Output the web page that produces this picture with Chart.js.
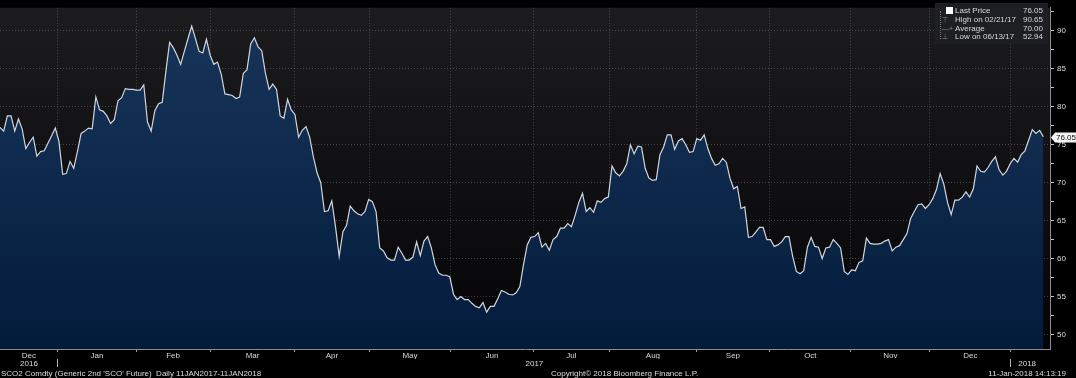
<!DOCTYPE html>
<html>
<head>
<meta charset="utf-8">
<script src="https://cdn.jsdelivr.net/npm/chart.js@4.4.1/dist/chart.umd.min.js"></script>
<style>
  html, body { margin: 0; padding: 0; background: #000; }
  #wrap { position: relative; width: 1076px; height: 378px; overflow: hidden;
          font-family: "Liberation Sans", Arial, sans-serif; color: #d8d8d8; }
  #c { position: absolute; left: 0; top: 0; }
  .legend { position: absolute; left: 935px; top: 3px; width: 113px; height: 41px;
            background: rgba(31, 32, 36, 0.94); font-size: 8px; }
  .legend .row { position: absolute; left: 0; width: 113px; height: 9px; line-height: 9px; white-space: pre; }
  .legend .lab { position: absolute; left: 20px; }
  .legend .val { position: absolute; right: 5px; }
  .legend .ico { position: absolute; left: 7px; color: #8a8a8a; font-size: 7px; }
  .legend .sq { position: absolute; left: 11px; top: 1px; width: 7px; height: 7px; background: #fff; }
  .legend .tree { position: absolute; left: 5px; top: 8px; height: 28px; border-left: 1px dotted #777; }
  .foot { position: absolute; top: 369px; font-size: 8px; line-height: 9px; white-space: pre; color: #dcdcdc; }
</style>
</head>
<body>
<div id="wrap">
  <canvas id="c" width="1076" height="370"></canvas>
  <div class="legend" id="legend"><div class="tree"></div></div>
  <div class="foot" style="left:1px">SCO2 Comdty (Generic 2nd 'SCO' Future)  Daily 11JAN2017-11JAN2018</div>
  <div class="foot" style="left:551px">Copyright© 2018 Bloomberg Finance L.P.</div>
  <div class="foot" style="right:10px">11-Jan-2018 14:13:19</div>
</div>
<script>
// Cours quotidien (jours ouvrés), de mi-déc. 2016 au 11 janv. 2018
const prices = [
  77.3, 76.8, 78.8, 78.8, 76.8, 78.4, 77.1, 74.5, 75.3, 76.0,
  73.5, 74.1, 74.2, 75.2, 76.2, 77.2, 75.4, 71.1, 71.2, 72.8,
  71.9, 74.1, 76.5, 76.8, 77.2, 77.1, 81.3, 79.6, 79.4, 78.8,
  77.8, 78.3, 80.8, 81.2, 82.4, 82.3, 82.3, 82.2, 82.2, 82.9,
  78.0, 76.8, 79.5, 80.4, 80.6, 84.7, 88.5, 87.8, 86.8, 85.6,
  87.3, 89.0, 90.65, 89.0, 87.3, 87.1, 88.9, 86.8, 85.6, 85.9,
  84.3, 81.7, 81.6, 81.5, 81.1, 81.3, 84.4, 84.9, 88.3, 89.1,
  87.9, 87.4, 84.4, 82.3, 83.0, 82.3, 78.8, 78.5, 81.0, 79.6,
  79.0, 76.0, 76.9, 77.4, 76.0, 73.4, 71.3, 70.0, 66.2, 66.3,
  67.6, 64.2, 60.3, 63.5, 64.4, 66.9, 66.3, 65.9, 65.7, 66.2,
  67.8, 67.5, 66.2, 61.4, 61.0, 60.1, 59.8, 59.8, 61.5, 60.7,
  59.8, 59.8, 60.2, 62.2, 60.4, 62.3, 62.9, 61.4, 59.2, 58.1,
  57.8, 57.8, 57.6, 55.3, 54.6, 55.0, 54.6, 54.6, 54.1, 53.7,
  53.5, 54.2, 52.94, 53.7, 53.7, 54.7, 55.8, 55.6, 55.3, 55.2,
  55.5, 56.3, 59.2, 61.8, 62.8, 62.9, 63.4, 61.5, 62.0, 61.1,
  62.5, 62.9, 64.0, 64.0, 64.6, 64.2, 65.7, 67.4, 68.6, 66.2,
  66.7, 66.1, 67.6, 67.4, 67.9, 68.1, 72.2, 71.3, 70.9, 71.5,
  72.5, 75.0, 73.8, 74.8, 74.7, 71.9, 70.6, 70.3, 70.4, 73.7,
  74.7, 76.3, 76.3, 74.4, 75.5, 75.8, 75.0, 74.0, 74.1, 75.8,
  75.6, 76.3, 74.5, 73.2, 72.3, 72.5, 73.2, 72.7, 70.6, 69.2,
  69.5, 66.6, 66.8, 62.8, 62.9, 63.5, 64.1, 64.1, 62.5, 62.5,
  61.6, 61.8, 62.2, 62.9, 62.9, 60.3, 58.3, 58.0, 58.4, 61.5,
  62.8, 61.6, 61.5, 60.0, 61.4, 61.5, 62.5, 62.0, 61.4, 58.3,
  57.9, 58.5, 58.4, 59.5, 59.7, 62.7, 62.0, 61.9, 61.9, 62.0,
  62.3, 62.5, 61.0, 61.5, 61.7, 62.5, 63.3, 65.3, 66.2, 67.1,
  67.2, 66.6, 67.1, 67.9, 69.1, 71.2, 69.8, 67.4, 65.8, 67.7,
  67.7, 68.1, 68.8, 68.1, 69.2, 72.2, 71.5, 71.4, 72.0, 72.8,
  73.4, 71.7, 71.0, 71.5, 72.5, 73.2, 72.7, 73.7, 74.2, 75.6,
  77.0, 76.5, 76.9, 76.05
];

// Début de chaque mois (en rang de séance), Jan 2017 -> Jan 2018
const monthEdges = [15.7, 36.9, 57.0, 80.0, 100.1, 122.3, 144.6, 165.4, 188.8, 208.8, 230.8, 252.2, 274.2];
const monthNames = ["Dec", "Jan", "Feb", "Mar", "Apr", "May", "Jun", "Jul", "Aug", "Sep", "Oct", "Nov", "Dec"];
const yearNames = ["2016", "2017", "2018"];

const legendLabels = ["Last Price", "High on 02/21/17", "Average", "Low on 06/13/17"];
const legendValues = ["76.05", "90.65", "70.00", "52.94"];
const legendIcons = ["", "\u22A4", "\u2014+", "\u22A5"];

const FONT = "'Liberation Sans', Arial, sans-serif";
const TXT = "#d8d8d8";
const GRID = "rgba(150, 150, 160, 0.38)";

// ticks de l'axe des mois : milieux (libellés) + bornes (grille)
const monthMid = monthNames.map((n, i) => ((i ? monthEdges[i - 1] : 0) + monthEdges[i]) / 2);
const monthLabelAt = new Map(monthMid.map((v, i) => [v, monthNames[i]]));
const monthTicks = [...monthMid, ...monthEdges].sort((a, b) => a - b);

const yearEdges = [monthEdges[0], monthEdges[monthEdges.length - 1]];
const yearBounds = [0, ...yearEdges, prices.length - 1];
const yearMid = yearNames.map((n, i) => (yearBounds[i] + yearBounds[i + 1]) / 2);
const yearLabelAt = new Map(yearMid.map((v, i) => [v, yearNames[i]]));
const yearTicks = [...yearMid, ...yearEdges].sort((a, b) => a - b);

const yTicks = [];
for (let v = 50; v <= 92.5; v += 2.5) yTicks.push(v);

// légende en HTML
const lg = document.getElementById("legend");
legendLabels.forEach((l, i) => {
  const r = document.createElement("div");
  r.className = "row";
  r.style.top = (3.3 + i * 8.7) + "px";
  const ico = i === 0 ? '<span class="sq"></span>' : `<span class="ico">${legendIcons[i]}</span>`;
  r.innerHTML = `${ico}<span class="lab">${l}</span><span class="val">${legendValues[i]}</span>`;
  lg.appendChild(r);
});

const fondPlot = {
  id: "fondPlot",
  beforeDraw(chart) {
    const { ctx, chartArea: a } = chart;
    const g = ctx.createLinearGradient(0, a.top, 0, a.bottom);
    g.addColorStop(0, "#1c1c1f");
    g.addColorStop(1, "#040406");
    ctx.save();
    ctx.fillStyle = g;
    ctx.fillRect(a.left, a.top, a.width, a.height);
    ctx.restore();
  },
  afterDraw(chart) {
    // étiquette du dernier cours sur l'axe
    const { ctx } = chart;
    const ys = chart.scales.y;
    const last = prices[prices.length - 1];
    const y = Math.round(ys.getPixelForValue(last)) + 0.5;
    const x0 = ys.left + 1;
    ctx.save();
    ctx.fillStyle = "#f4f4f4";
    ctx.beginPath();
    ctx.moveTo(x0, y);
    ctx.lineTo(x0 + 4, y - 5);
    ctx.lineTo(chart.width, y - 5);
    ctx.lineTo(chart.width, y + 5);
    ctx.lineTo(x0 + 4, y + 5);
    ctx.closePath();
    ctx.fill();
    ctx.fillStyle = "#111";
    ctx.font = "8px " + FONT;
    ctx.textBaseline = "middle";
    ctx.fillText(last.toFixed(2), x0 + 5, y);
    ctx.restore();
  },
};

const ctx = document.getElementById("c").getContext("2d");
new Chart(ctx, {
  type: "line",
  data: {
    datasets: [{
      data: prices.map((p, i) => ({ x: i, y: p })),
      borderColor: "#d2d6dc",
      borderWidth: 1.2,
      pointRadius: 0,
      tension: 0,
      fill: "start",
      backgroundColor: (c) => {
        const a = c.chart.chartArea;
        if (!a) return "#0b2545";
        const g = c.chart.ctx.createLinearGradient(0, a.top, 0, a.bottom);
        g.addColorStop(0, "#18365b");
        g.addColorStop(1, "#031b3b");
        return g;
      },
    }],
  },
  options: {
    responsive: false,
    animation: false,
    layout: { padding: 0 },
    plugins: { legend: { display: false }, tooltip: { enabled: false } },
    scales: {
      x: {
        type: "linear", position: "bottom", min: 0, max: 284.8, weight: 0, z: 1,
        afterBuildTicks: (s) => { s.ticks = monthTicks.map((v) => ({ value: v })); },
        afterFit: (s) => { s.height = 10; },
        ticks: {
          autoSkip: false, maxRotation: 0, padding: -1, color: TXT,
          font: { size: 8, family: FONT },
          callback: (v) => monthLabelAt.get(v) || "",
        },
        grid: {
          color: (c) => (c.tick && monthEdges.includes(c.tick.value) ? GRID : "rgba(0,0,0,0)"),
          tickColor: (c) => (c.tick && monthEdges.includes(c.tick.value) ? "#9a9a9a" : "rgba(0,0,0,0)"),
          tickLength: 3,
        },
        border: { display: true, color: "#8c8c8c", width: 1, dash: [1, 2] },
      },
      x2: {
        type: "linear", position: "bottom", min: 0, max: 284.8, weight: 1,
        afterBuildTicks: (s) => { s.ticks = yearTicks.map((v) => ({ value: v })); },
        afterFit: (s) => { s.height = 11; },
        ticks: {
          autoSkip: false, maxRotation: 0, padding: -8, color: TXT,
          font: { size: 8, family: FONT },
          callback: (v) => yearLabelAt.get(v) || "",
        },
        grid: {
          drawOnChartArea: false,
          color: (c) => (c.tick && yearEdges.includes(c.tick.value) ? "#b0b0b0" : "rgba(0,0,0,0)"),
          tickColor: (c) => (c.tick && yearEdges.includes(c.tick.value) ? "#b0b0b0" : "rgba(0,0,0,0)"),
          tickLength: 8,
        },
        border: { display: false },
      },
      y: {
        type: "linear", position: "right", min: 48.08, max: 93.05, z: 1,
        afterBuildTicks: (s) => { s.ticks = yTicks.map((v) => ({ value: v })); },
        afterFit: (s) => { s.width = 26; },
        ticks: {
          padding: 3, color: TXT,
          font: { size: 8, family: FONT },
          callback: (v) => (v % 5 === 0 ? String(v) : ""),
        },
        grid: {
          color: (c) => (c.tick && c.tick.value % 5 === 0 ? GRID : "rgba(0,0,0,0)"),
          tickColor: "#c8c8c8",
          tickLength: 4,
        },
        border: { display: true, color: "#8c8c8c", width: 1, dash: [1, 2] },
      },
    },
  },
  plugins: [fondPlot],
});
</script>
</body>
</html>
